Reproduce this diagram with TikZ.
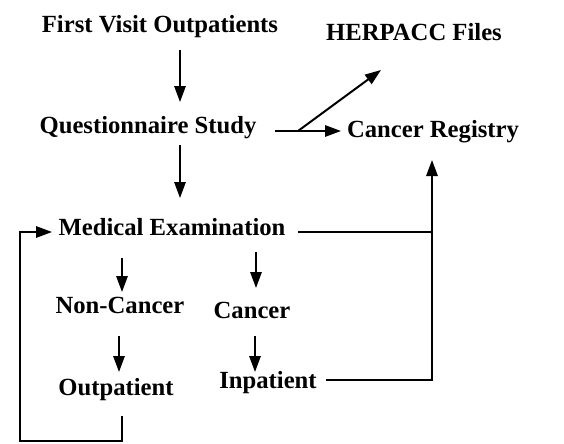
\documentclass[tikz,border=0pt]{standalone}
\usepackage{fontspec}
\setmainfont{Liberation Serif}
\usetikzlibrary{arrows.meta,calc}

\tikzset{
  step label/.style={font=\fontsize{18.5}{22}\selectfont\bfseries,inner sep=0pt,anchor=base},
  flow/.style={line width=1.5pt,-{Triangle[length=12pt,width=8.5pt]}},
  link/.style={line width=1.5pt}
}

\begin{document}
\begin{tikzpicture}[x=0.75pt,y=-0.75pt]
  \useasboundingbox (0,0) rectangle (564,443);
  % steps
  \node[step label] (fvo) at (160,32) {First Visit Outpatients};
  \node[step label] (herp) at (414,40) {HERPACC Files};
  \node[step label] (qs) at (148,133) {Questionnaire Study};
  \node[step label] (creg) at (433,137) {Cancer Registry};
  \node[step label] (medex) at (172,235) {Medical Examination};
  \node[step label] (noncan) at (120,313) {Non-Cancer};
  \node[step label] (can) at (252,318) {Cancer};
  \node[step label] (outp) at (116,395) {Outpatient};
  \node[step label] (inp) at (268,388) {Inpatient};
  % connectors
  \coordinate (split) at ($(qs.base)+(150,-2)$);
  \coordinate (cregin) at ($(creg.base)+(-1,23)$);
  \coordinate (join) at ($(medex.base)+(260,-3)$);
  \draw[flow] ($(fvo.base)+(20,18)$) -- ($(qs.base)+(32,-31)$);
  \draw[flow] ($(qs.base)+(127,-2)$) -- ($(creg.base)+(-92,-6)$);
  \draw[flow] (split) -- ($(herp.base)+(-33,30)$);
  \draw[flow] ($(qs.base)+(32,12)$) -- ($(medex.base)+(8,-37)$);
  \draw[flow] ($(medex.base)+(126,-3)$) -| (cregin);
  \draw[link] ($(inp.base)+(58,-8)$) -| (join);
  \draw[flow] ($(medex.base)+(-50,23)$) -- ($(noncan.base)+(2,-21)$);
  \draw[flow] ($(medex.base)+(84,17)$) -- ($(can.base)+(4,-30)$);
  \draw[flow] ($(noncan.base)+(-1,23)$) -- ($(outp.base)+(3,-23)$);
  \draw[flow] ($(can.base)+(3,18)$) -- ($(inp.base)+(-13,-16)$);
  \draw[flow] ($(outp.base)+(6,21)$) -- ++(0,25) -- ++(-102,0) |- ($(medex.base)+(-120,-3)$);
\end{tikzpicture}
\end{document}
